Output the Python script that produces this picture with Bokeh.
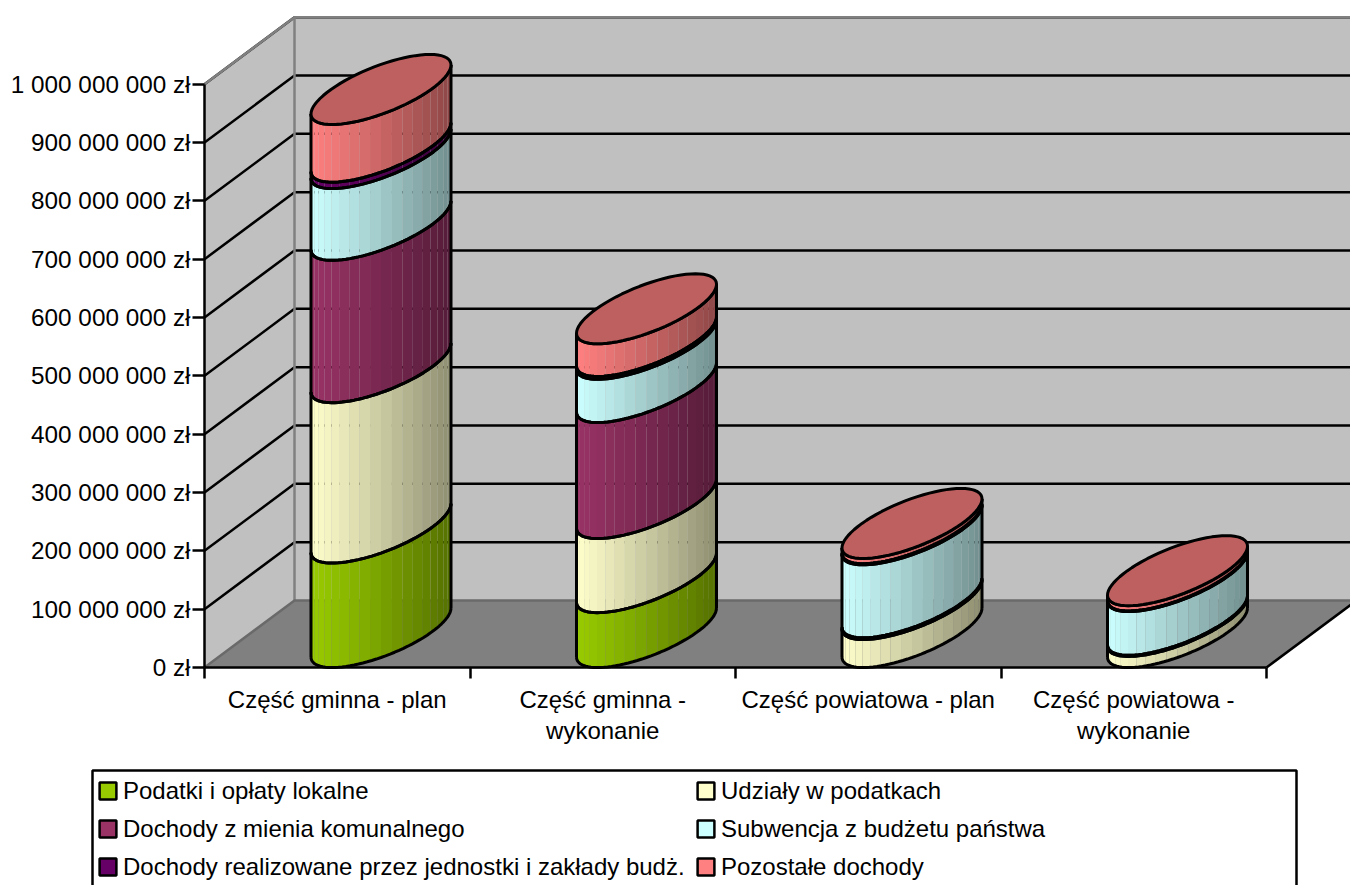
import math
from bokeh.plotting import figure
from bokeh.models import (FixedTicker, Range1d, Legend, LegendItem, BoxAnnotation, AllLabels)
from bokeh.embed import file_html
from bokeh.resources import INLINE

categories = ["Część gminna - plan", "Część gminna -\nwykonanie", "Część powiatowa - plan", "Część powiatowa -\nwykonanie"]
podatki = [179e6, 94e6, 0, 0]
udzialy = [275e6, 127e6, 48e6, 19e6]
mienie = [244e6, 199e6, 3e6, 2e6]
subwencja = [123e6, 74e6, 125e6, 75e6]
jednostki = [11e6, 5e6, 2e6, 1e6]
pozostale = [99e6, 56e6, 9e6, 9e6]
series_names = ["Podatki i opłaty lokalne", "Udziały w podatkach", "Dochody z mienia komunalnego",
                "Subwencja z budżetu państwa", "Dochody realizowane przez jednostki i zakłady budż.", "Pozostałe dochody"]
series_colors = ["#99CC00", "#FFFFCC", "#993366", "#CCFFFF", "#660066", "#FF8080"]
series_values = [podatki, udzialy, mienie, subwencja, jednostki, pozostale]
y_ticks = [0, 100000000, 200000000, 300000000, 400000000, 500000000, 600000000, 700000000, 800000000, 900000000, 1000000000]
y_labels = ["0 zł", "100 000 000 zł", "200 000 000 zł", "300 000 000 zł", "400 000 000 zł", "500 000 000 zł",
            "600 000 000 zł", "700 000 000 zł", "800 000 000 zł", "900 000 000 zł", "1 000 000 000 zł"]

# layout
W, H = 1350, 885
FL, FB = 204, 218            # position of the chart origin from the left / bottom edge
PXX = 265.5                  # px per category
PXY = 58.33 / 1e8            # px per value unit
X_END = (W - FL) / PXX
Y_END = (H - FB) / PXY
DX = 90 / PXX                # wall depth
DY = 67 / PXY
CX0 = 176.5 / PXX            # first cylinder centre
CY0 = 35 / PXY               # depth lift of cylinder centre
EA, EB, EC = 50, 49, 35      # ellipse shear in px
T0 = math.atan2(EB, EA)
NST = 20


def ell(i, v, t):
    x = i + CX0 + (EA * math.cos(t) + EB * math.sin(t)) / PXX
    y = v + CY0 + EC * math.sin(t) / PXY
    return x, y


def shade(c, f):
    r, g, b = [int(c[k:k + 2], 16) for k in (1, 3, 5)]
    return "#%02x%02x%02x" % (int(r * f), int(g * f), int(b * f))


p = figure(width=W, height=H, output_backend="svg", toolbar_location=None,
           x_range=Range1d(-FL / PXX, X_END), y_range=Range1d(-FB / PXY, Y_END),
           min_border=0)
p.outline_line_color = None
p.grid.visible = False
p.background_fill_color = "white"
p.border_fill_color = "white"

# walls and floor
p.patch([0, DX, DX, 0], [0, DY, 1e9 + DY, 1e9], fill_color="#C0C0C0", line_color=None)
p.patch([DX, X_END, X_END, DX], [DY, DY, 1e9 + DY, 1e9 + DY], fill_color="#C0C0C0", line_color=None)
p.patch([0, 4, 4 + DX, DX], [0, 0, DY, DY], fill_color="#808080", line_color=None)

# gridlines
gx0, gy0, gx1, gy1 = [], [], [], []
for t in y_ticks[1:]:
    gx0 += [0, DX]
    gy0 += [t, t + DY]
    gx1 += [DX, X_END]
    gy1 += [t + DY, t + DY]
p.segment(gx0, gy0, gx1, gy1, line_color="black", line_width=2.5)

# wall edges
p.line([0, DX, X_END], [1e9, 1e9 + DY, 1e9 + DY], line_color="#808080", line_width=2.5)
p.line([DX, DX], [DY, 1e9 + DY], line_color="#808080", line_width=2.5)
p.line([0, DX, X_END], [0, DY, DY], line_color="#6a6a6a", line_width=2.5)
p.line([4, 4 + DX], [0, DY], line_color="black", line_width=2.5)

# cylinders
for i in range(len(categories)):
    base = 0.0
    sx, sy, sc = [], [], []
    lx, ly = [], []
    for vals, col in zip(series_values, series_colors):
        v = vals[i]
        top = base + v
        if v > 0:
            for k in range(NST):
                t1 = T0 + math.pi + math.pi * k / NST
                t2 = T0 + math.pi + math.pi * (k + 1) / NST
                a = ell(i, base, t1); b = ell(i, base, t2)
                c = ell(i, top, t2); d = ell(i, top, t1)
                sx.append([a[0], b[0], c[0], d[0]])
                sy.append([a[1], b[1], c[1], d[1]])
                sc.append(shade(col, 1.0 - 0.45 * (a[0] - ell(i, base, T0 + math.pi)[0]) * PXX / 140))
            ts = [T0 + math.pi + math.pi * k / 48 for k in range(49)]
            edge = [ell(i, base, t) for t in ts]
            lx.append([e[0] for e in edge])
            ly.append([e[1] for e in edge])
            edge = [ell(i, top, t) for t in ts]
            lx.append([e[0] for e in edge])
            ly.append([e[1] for e in edge])
            base = top
    lft, rgt = ell(i, 0, T0 + math.pi), ell(i, 0, T0)
    lx += [[lft[0], lft[0]], [rgt[0], rgt[0]]]
    ly += [[lft[1], lft[1] + base], [rgt[1], rgt[1] + base]]
    p.patches(sx, sy, fill_color=sc, line_color=None)
    p.multi_line(lx, ly, line_color="black", line_width=3)
    ts = [2 * math.pi * k / 72 for k in range(73)]
    cap = [ell(i, base, t) for t in ts]
    last = [s for s, vals in zip(series_colors, series_values) if vals[i] > 0][-1]
    p.patch([c[0] for c in cap], [c[1] for c in cap], fill_color=shade(last, 0.75),
            line_color="black", line_width=3, line_join="round")

# axes
xa = p.xaxis[0]
xa.fixed_location = 0
xa.ticker = FixedTicker(ticks=[0.5, 1.5, 2.5, 3.5], minor_ticks=[0, 1, 2, 3, 4])
xa.major_label_overrides = {0.5: categories[0], 1.5: categories[1], 2.5: categories[2], 3.5: categories[3]}
xa.major_label_policy = AllLabels()
xa.bounds = (0, 4)
xa.major_tick_line_color = None
xa.major_tick_out = 0
xa.major_tick_in = 0
xa.minor_tick_out = 11
xa.minor_tick_in = 0
xa.minor_tick_line_color = "black"
xa.minor_tick_line_width = 2.5
xa.axis_line_width = 2.5
xa.major_label_text_font = "Liberation Sans"
xa.major_label_text_font_size = "24px"
xa.major_label_text_color = "black"
xa.major_label_standoff = 7
xa.major_label_text_line_height = 1.15

ya = p.yaxis[0]
ya.fixed_location = 0
ya.ticker = FixedTicker(ticks=y_ticks)
ya.major_label_overrides = dict(zip(y_ticks, y_labels))
ya.major_label_policy = AllLabels()
ya.bounds = (0, 1e9)
ya.major_tick_out = 12
ya.major_tick_in = 0
ya.major_tick_line_width = 2.5
ya.minor_tick_line_color = None
ya.axis_line_width = 2.5
ya.major_label_text_font = "Liberation Sans"
ya.major_label_text_font_size = "24.3px"
ya.major_label_text_color = "black"
ya.major_label_standoff = 2

# legend
p.add_layout(BoxAnnotation(left=92, right=1296, top=770, bottom=900,
                           left_units="canvas", right_units="canvas", top_units="canvas", bottom_units="canvas",
                           fill_color="white", fill_alpha=1, line_color="black", line_alpha=1, line_width=2.5,
                           level="overlay"))
nan = float("nan")
rend = [p.quad(left=[nan], right=[nan], top=[nan], bottom=[nan], fill_color=c, line_color="black", line_width=2.5)
        for c in series_colors]
for idx, lx0 in ((0, 97), (1, 695)):
    items = [LegendItem(label=series_names[k], renderers=[rend[k]]) for k in range(idx, 6, 2)]
    leg = Legend(items=items, location=(lx0, 4.5), orientation="vertical", border_line_color=None,
                 background_fill_alpha=0, margin=0, padding=2, spacing=10, glyph_width=21, glyph_height=21,
                 label_height=27, label_standoff=5, level="overlay",
                 label_text_font="Liberation Sans", label_text_font_size="24px", label_text_color="black")
    p.add_layout(leg, "center")

open("out.html", "w").write(file_html(p, INLINE))
